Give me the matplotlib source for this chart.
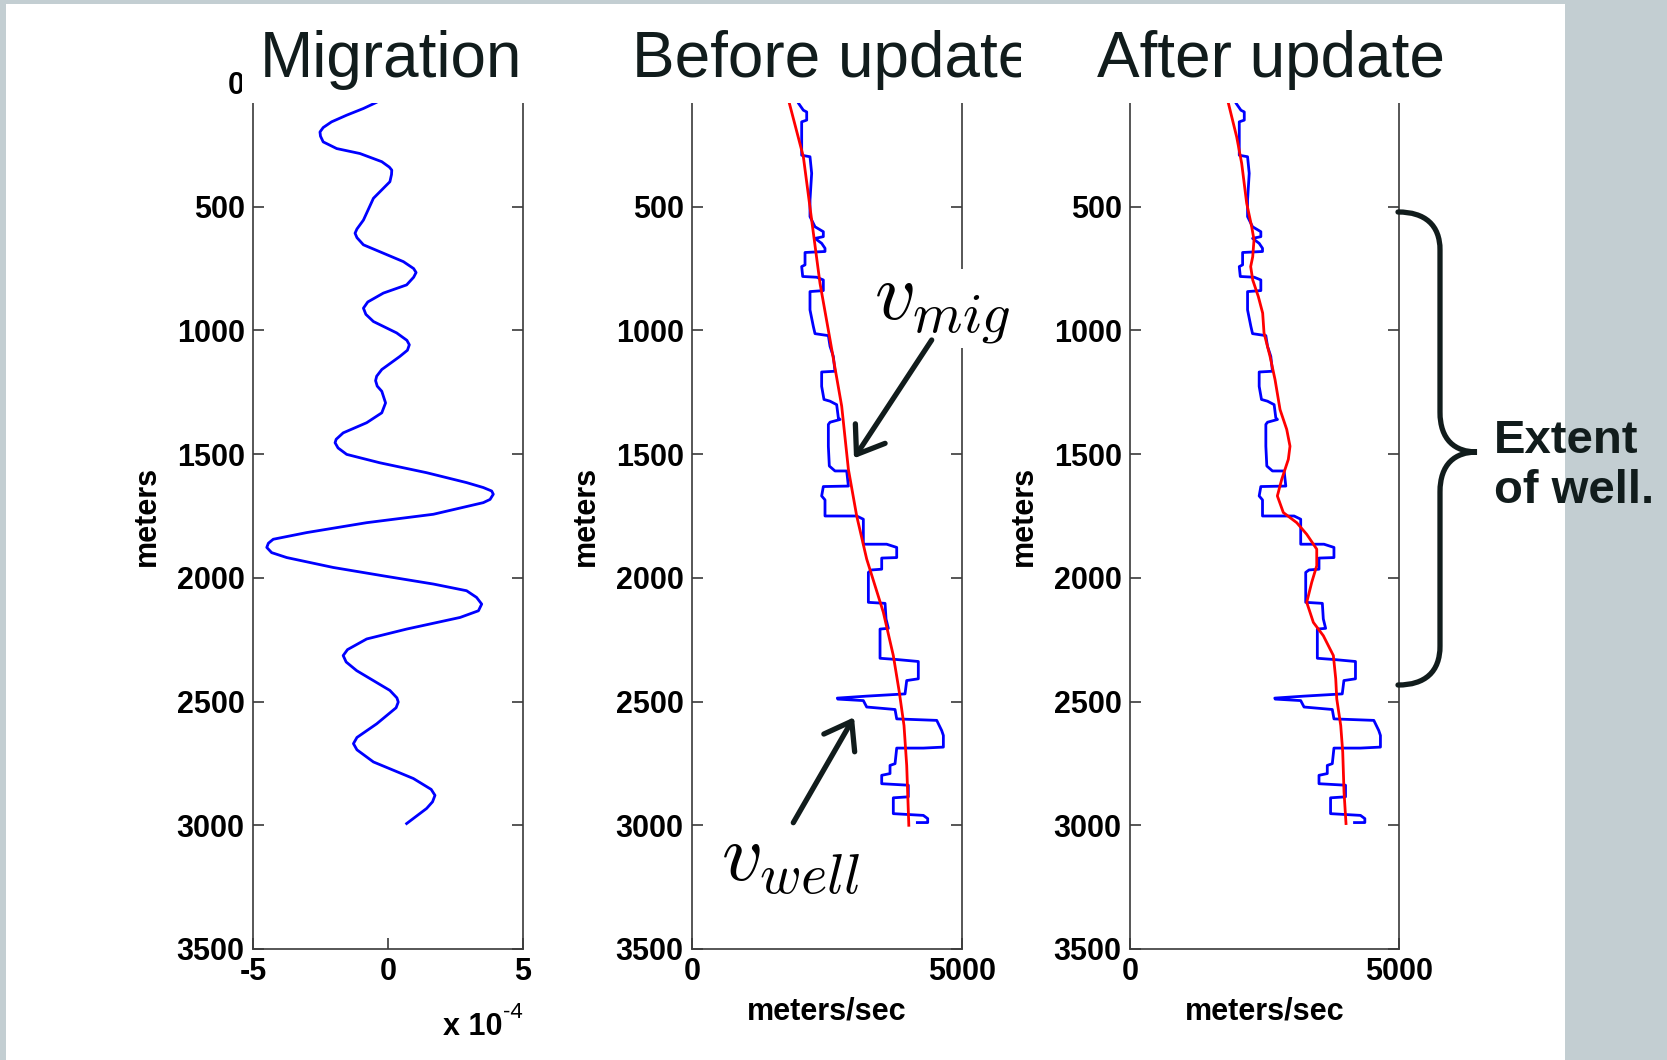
import matplotlib
matplotlib.use("Agg")
import matplotlib.pyplot as plt
import matplotlib.patches as patches
from matplotlib.path import Path

# migration trace, depth (m) vs amplitude (units of 1e-4)
mig_depth = [60, 81, 103, 130, 157, 180, 198, 215, 238, 265, 285, 318, 340, 352, 370, 399,
             466, 554, 590, 607, 625, 654, 688, 722, 750, 766, 785, 816, 849, 885, 910, 935,
             964, 1010, 1040, 1058, 1080, 1105, 1158, 1185, 1203, 1225, 1246, 1293, 1333,
             1373, 1414, 1440, 1454, 1475, 1501, 1535, 1575, 1615, 1635, 1649, 1662, 1683,
             1696, 1743, 1777, 1817, 1844, 1860, 1877, 1898, 1918, 1958, 1992, 2025, 2052,
             2079, 2106, 2133, 2160, 2207, 2247, 2290, 2314, 2340, 2375, 2455, 2485, 2502,
             2525, 2590, 2645, 2670, 2695, 2744, 2811, 2855, 2879, 2905, 2932, 2993]
mig_amp = [-0.10, -0.48, -0.91, -1.53, -2.09, -2.40, -2.52, -2.50, -2.40, -1.90, -1.04,
           -0.23, 0.05, 0.14, 0.13, 0.07, -0.54, -0.91, -1.15, -1.22, -1.15, -0.91, -0.17,
           0.57, 0.95, 1.04, 0.95, 0.69, -0.17, -0.75, -0.91, -0.82, -0.54, 0.32, 0.70,
           0.79, 0.72, 0.44, -0.23, -0.42, -0.46, -0.40, -0.23, -0.09, -0.23, -0.79, -1.66,
           -1.92, -1.96, -1.85, -1.53, -0.30, 1.43, 2.91, 3.53, 3.84, 3.90, 3.78, 3.53, 1.68,
           -0.79, -3.01, -4.25, -4.43, -4.49, -4.31, -3.75, -2.03, -0.17, 1.68, 2.91, 3.28,
           3.47, 3.35, 2.67, 0.69, -0.79, -1.50, -1.66, -1.55, -1.16, 0.07, 0.33, 0.38, 0.30,
           -0.42, -1.15, -1.28, -1.15, -0.54, 0.94, 1.60, 1.74, 1.65, 1.43, 0.69]

# well log velocity (blocky), depth (m) vs m/s
well_depth = [60, 81, 110, 117, 150, 157, 292, 298, 365, 473, 540, 581, 601, 621, 628, 648,
              668, 681, 685, 735, 742, 782, 785, 796, 839, 843, 917, 984, 1013, 1021, 1064,
              1105, 1165, 1168, 1226, 1279, 1286, 1300, 1353, 1360, 1371, 1380, 1468, 1548,
              1568, 1568, 1629, 1631, 1669, 1685, 1750, 1750, 1763, 1864, 1864, 1877, 1918,
              1920, 1965, 1968, 1978, 2099, 2103, 2166, 2204, 2207, 2325, 2330, 2338, 2408,
              2415, 2469, 2478, 2486, 2490, 2496, 2522, 2532, 2570, 2576, 2617, 2637, 2684,
              2688, 2688, 2751, 2758, 2791, 2798, 2832, 2838, 2885, 2889, 2953, 2960, 2973,
              2989, 2989]
well_vel = [1940, 1969, 2062, 2124, 2124, 2031, 2031, 2185, 2216, 2185, 2185, 2278, 2432,
            2432, 2278, 2401, 2463, 2463, 2093, 2093, 2031, 2050, 2309, 2432, 2432, 2185,
            2185, 2247, 2278, 2525, 2556, 2617, 2648, 2401, 2401, 2444, 2556, 2679, 2710,
            2741, 2556, 2525, 2525, 2543, 2648, 2865, 2896, 2432, 2401, 2463, 2463, 3050,
            3173, 3173, 3605, 3791, 3791, 3513, 3513, 3328, 3266, 3266, 3575, 3593, 3636,
            3482, 3482, 3791, 4191, 4191, 3976, 3945, 3235, 2691, 2700, 3173, 3235, 3760,
            3791, 4532, 4624, 4655, 4655, 4284, 3791, 3760, 3667, 3667, 3513, 3513, 4006,
            4006, 3728, 3728, 4284, 4365, 4365, 4173]

# smooth migration velocity (before update)
vmig_depth = [60, 81, 298, 554, 809, 1037, 1306, 1561, 1750, 1924, 2139, 2314, 2462, 2597,
              2758, 2986, 3000]
vmig_vel = [1760, 1802, 2062, 2216, 2370, 2556, 2772, 2896, 3050, 3235, 3543, 3728, 3839,
            3926, 3976, 4013, 4015]

# updated migration velocity
upd_depth = [60, 81, 218, 325, 486, 581, 634, 702, 742, 796, 863, 930, 1010, 1105, 1199,
             1320, 1400, 1468, 1521, 1602, 1669, 1736, 1777, 1824, 1884, 1951, 2018, 2099,
             2180, 2234, 2314, 2408, 2489, 2597, 2704, 2865, 2993]
upd_vel = [1790, 1828, 1983, 2076, 2169, 2262, 2305, 2281, 2243, 2281, 2385, 2466, 2491,
           2603, 2696, 2789, 2913, 2974, 2943, 2820, 2739, 2850, 3099, 3285, 3471, 3471,
           3378, 3285, 3408, 3594, 3780, 3824, 3843, 3917, 3954, 3978, 4015]

titles = ["Migration", "Before update", "After update"]
depth_ticks = [0, 500, 1000, 1500, 2000, 2500, 3000, 3500]

W, H = 1667, 1060
INK = '#111c1c'


def fx(x):
    return x / W


def fy(y):
    return 1 - y / H


plt.rcParams['font.family'] = ['Liberation Sans', 'DejaVu Sans']
plt.rcParams['mathtext.fontset'] = 'cm'

fig = plt.figure(figsize=(W / 100, H / 100), dpi=100)
fig.patch.set_facecolor('#c3ced2')
fig.add_artist(patches.Rectangle((fx(6), 0), fx(1565) - fx(6), fy(4),
                                 transform=fig.transFigure, facecolor='white',
                                 edgecolor='none', zorder=-1))


def make_axes(left, width):
    ax = fig.add_axes([fx(left), fy(949), width / W, (949 - 83) / H])
    for s in ax.spines.values():
        s.set_color('#3a3a3a')
        s.set_linewidth(1.2)
    ax.tick_params(direction='in', length=8, width=1.2, color='#3a3a3a',
                   top=True, right=True, pad=6)
    ax.set_ylim(3500, 0)
    ax.set_yticks(depth_ticks, [str(t) for t in depth_ticks],
                  fontsize=22, fontweight='bold')
    ax.set_ylabel('meters', fontsize=22, fontweight='bold', va='center')
    ax.yaxis.set_label_coords(-0.393, 0.5)
    return ax


ax1 = make_axes(253, 270)
ax1.plot(mig_amp, mig_depth, color='#0000ff', lw=2.0, solid_joinstyle='round')
ax1.set_xlim(-5, 5)
ax1.set_xticks([-5, 0, 5], ['-5', '0', '5'], fontsize=22, fontweight='bold')
fig.text(fx(443), fy(1035), 'x 10', fontsize=22, fontweight='bold', va='baseline')
fig.text(fx(503), fy(1018), '-4', fontsize=16, va='baseline')

ax2 = make_axes(692, 270)
ax3 = make_axes(1130, 269)
for ax, red_d, red_v in [(ax2, vmig_depth, vmig_vel), (ax3, upd_depth, upd_vel)]:
    ax.plot(well_vel, well_depth, color='#0000ff', lw=2.0)
    ax.plot(red_v, red_d, color='#ff0000', lw=2.0)
    ax.set_xlim(0, 5000)
    ax.set_xticks([0, 5000], ['0', '5000'], fontsize=22, fontweight='bold')
    ax.set_xlabel('meters/sec', fontsize=22, fontweight='bold', va='center')
    ax.xaxis.set_label_coords(0.5, -0.072)

# title boxes sit over the tops of the axes
for (x0, x1), tx, title in zip([(242, 540), (615, 1021), (1085, 1450)],
                               [260, 632, 1097], titles):
    fig.add_artist(patches.Rectangle((fx(x0), fy(103)), fx(x1) - fx(x0), fy(4) - fy(103),
                                     transform=fig.transFigure, facecolor='white',
                                     edgecolor='none', zorder=5))
    fig.text(fx(tx), fy(77), title, fontsize=46, color=INK, va='baseline', zorder=6)
# the "Before update" box clips its last letter
fig.add_artist(patches.Rectangle((fx(1021), fy(103)), fx(1080) - fx(1021), fy(4) - fy(103),
                                 transform=fig.transFigure, facecolor='white',
                                 edgecolor='none', zorder=7))

# labels and arrows
fig.text(fx(874), fy(319), r'$v_{mig}$', fontsize=58, va='baseline', zorder=6,
         bbox=dict(facecolor='white', edgecolor='none', pad=1))
fig.text(fx(721), fy(880), r'$v_{well}$', fontsize=58, va='baseline', zorder=6)
for tail, tip in [((931.7, 340), (854, 458.3)), ((793.3, 822.7), (854, 717.3))]:
    fig.add_artist(patches.FancyArrowPatch((fx(tail[0]), fy(tail[1])), (fx(tip[0]), fy(tip[1])),
                                           transform=fig.transFigure,
                                           arrowstyle='->,head_length=0.45,head_width=0.32',
                                           mutation_scale=40, lw=3.8, color=INK,
                                           shrinkA=0, shrinkB=0, zorder=7))

# curly brace for the extent of the well
brace_px = [(1398, 212), (1425, 212), (1440, 225), (1440, 250), (1440, 412),
            (1440, 440), (1455, 452), (1477, 452), (1455, 452), (1440, 464), (1440, 492),
            (1440, 646), (1440, 672), (1425, 685), (1398, 685)]
codes = [Path.MOVETO] + [Path.CURVE4] * 3 + [Path.LINETO] + [Path.CURVE4] * 6 + \
        [Path.LINETO] + [Path.CURVE4] * 3
brace = Path([(fx(x), fy(y)) for x, y in brace_px], codes)
fig.add_artist(patches.PathPatch(brace, transform=fig.transFigure, facecolor='none',
                                 edgecolor=INK, lw=3.8, capstyle='round', zorder=7))
fig.text(fx(1494), fy(466), 'Extent\nof well.', fontsize=34, fontweight='bold',
         color=INK, va='center', ha='left', linespacing=1.15, zorder=7)

fig.savefig('out.png', dpi=100, facecolor=fig.get_facecolor())
